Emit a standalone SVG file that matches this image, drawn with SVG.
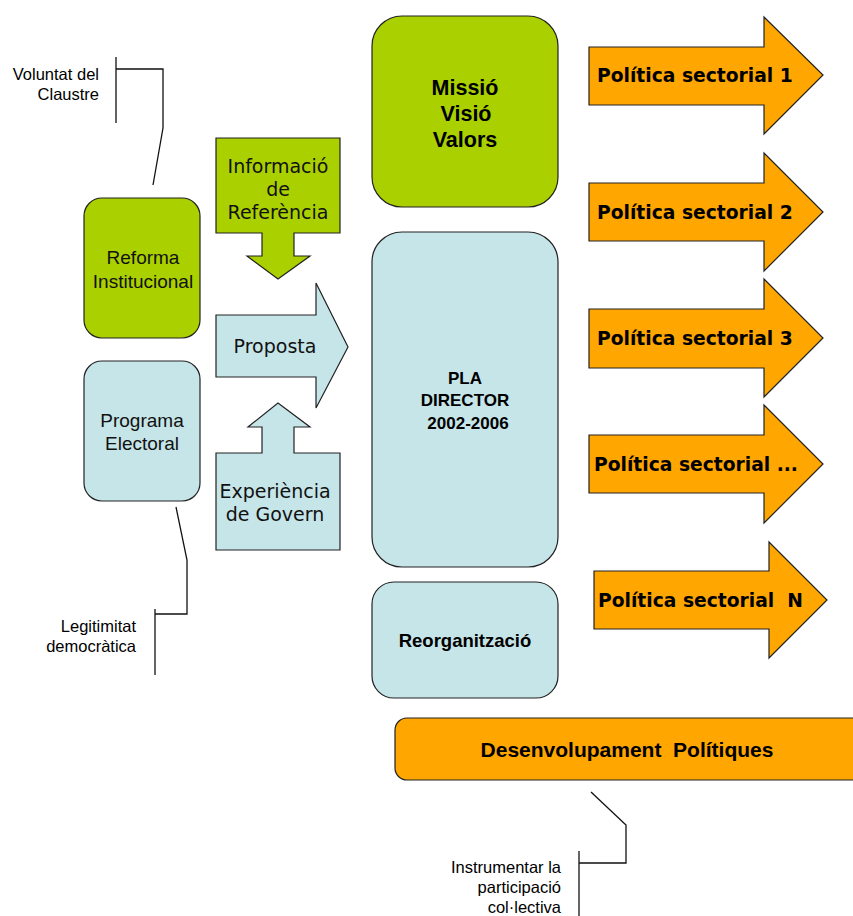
<svg xmlns="http://www.w3.org/2000/svg" width="853" height="916" viewBox="0 0 853 916">
<style>
.g{fill:#AAD000;stroke:#222;stroke-width:1.2}
.b{fill:#C6E5E8;stroke:#222;stroke-width:1.2}
.o{fill:#FFA600;stroke:#222;stroke-width:1.2}
.ln{fill:none;stroke:#111;stroke-width:1.3}
.a{font-family:"Liberation Sans",Arial,sans-serif;font-size:19px;fill:#111}
.ab{font-family:"Liberation Sans",Arial,sans-serif;font-weight:bold;fill:#000}
.v{font-family:"DejaVu Sans",Verdana,sans-serif;font-size:19px;fill:#111}
.vb{font-family:"DejaVu Sans",Verdana,sans-serif;font-weight:bold;font-size:18.7px;fill:#000}
.s{font-family:"Liberation Sans",Arial,sans-serif;font-size:16.5px;fill:#000}
</style>
<g id="connectors">
<polyline class="ln" points="116,57 116,123"/>
<polyline class="ln" points="116,69 163,69 163,128 153,185"/>
<polyline class="ln" points="176,507 187,560 187,614 155,614"/>
<polyline class="ln" points="155,609 155,675"/>
<polyline class="ln" points="591,792 626,825 626,863 579,863"/>
<polyline class="ln" points="579,851 579,916"/>
</g>
<g id="voluntat"><text class="s" text-anchor="end"><tspan x="99" y="80">Voluntat del</tspan><tspan x="99" y="100">Claustre</tspan></text></g>
<g id="legitimitat"><text class="s" text-anchor="end"><tspan x="136" y="632">Legitimitat</tspan><tspan x="136" y="652">democràtica</tspan></text></g>
<g id="instrumentar"><text class="s" text-anchor="end"><tspan x="561" y="873">Instrumentar la</tspan><tspan x="561" y="893">participació</tspan><tspan x="561" y="913">col·lectiva</tspan></text></g>
<g id="reforma"><rect class="g" x="84" y="198" width="116" height="140" rx="18"/><text class="a" text-anchor="middle"><tspan x="143" y="264">Reforma</tspan><tspan x="143" y="288">Institucional</tspan></text></g>
<g id="programa"><rect class="b" x="84" y="361" width="116" height="140" rx="18"/><text class="a" text-anchor="middle"><tspan x="142" y="427">Programa</tspan><tspan x="142" y="450">Electoral</tspan></text></g>
<g id="informacio"><path class="g" d="M216,138 H340 V233 H294 V256 H310 L278,279 L247,256 H262 V233 H216 Z"/><text class="v" text-anchor="middle"><tspan x="278" y="173">Informació</tspan><tspan x="278" y="196">de</tspan><tspan x="278" y="219">Referència</tspan></text></g>
<g id="proposta"><path class="b" d="M216,315 H316 V283 L348,347 L316,408 V377 H216 Z"/><text class="v" text-anchor="middle" x="275" y="353">Proposta</text></g>
<g id="experiencia"><path class="b" d="M216,453 H262 V427 H248 L278,403 L310,427 H294 V453 H340 V550 H216 Z"/><text class="v" text-anchor="middle"><tspan x="275" y="498">Experiència</tspan><tspan x="275" y="521">de Govern</tspan></text></g>
<g id="missio"><rect class="g" x="372" y="16" width="186" height="191" rx="30"/><text class="ab" font-size="21.5" text-anchor="middle"><tspan x="465" y="95">Missió</tspan><tspan x="466" y="121">Visió</tspan><tspan x="465" y="147">Valors</tspan></text></g>
<g id="pla"><rect class="b" x="372" y="232" width="186" height="335" rx="30"/><text class="ab" font-size="17" text-anchor="middle"><tspan x="465" y="384">PLA</tspan><tspan x="465" y="406">DIRECTOR</tspan><tspan x="468" y="429">2002-2006</tspan></text></g>
<g id="reorganitzacio"><rect class="b" x="372" y="582" width="186" height="116" rx="22"/><text class="ab" font-size="18.5" text-anchor="middle" x="465" y="647">Reorganització</text></g>
<g id="desenvolupament"><rect class="o" x="395" y="718" width="470" height="62" rx="12"/><text class="ab" font-size="21" text-anchor="middle" x="627" y="757" xml:space="preserve">Desenvolupament  Polítiques</text></g>
<g id="ps1"><path class="o" d="M589,47 H764 V17 L823,75 L764,134 V105 H589 Z"/><text class="vb" x="597" y="82">Política sectorial 1</text></g>
<g id="ps2"><path class="o" d="M589,183 H764 V153 L823,212 L764,271 V241 H589 Z"/><text class="vb" x="597" y="219">Política sectorial 2</text></g>
<g id="ps3"><path class="o" d="M589,309 H764 V279 L823,338 L764,397 V368 H589 Z"/><text class="vb" x="597" y="345">Política sectorial 3</text></g>
<g id="psdots"><path class="o" d="M589,435 H764 V405 L823,464 L764,523 V493 H589 Z"/><text class="vb" x="594" y="471">Política sectorial ...</text></g>
<g id="psN"><path class="o" d="M594,571 H769 V542 L827,600 L769,658 V629 H594 Z"/><text class="vb" x="598" y="607" xml:space="preserve">Política sectorial  N</text></g>
</svg>
